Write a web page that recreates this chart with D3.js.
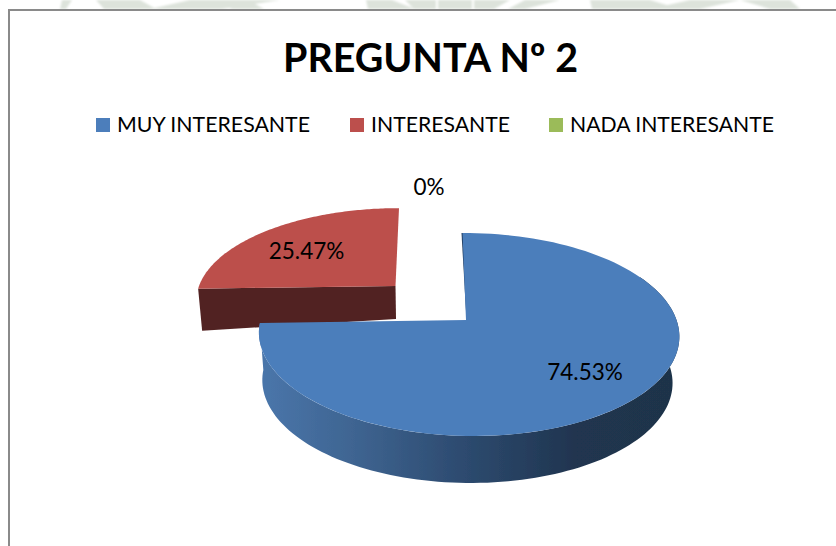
<!DOCTYPE html>
<html>
<head>
<meta charset="utf-8">
<script src="https://cdn.jsdelivr.net/npm/d3@7"></script>
<style>
  html, body { margin: 0; padding: 0; background: #fff; }
  svg { display: block; }
  text { font-family: Lato, "Open Sans", sans-serif; fill: #000; }
</style>
</head>
<body>
<div id="chart"></div>
<script>
var categories = ["MUY INTERESANTE", "INTERESANTE", "NADA INTERESANTE"];
var values = [74.53, 25.47, 0];
var valueLabels = ["74.53%", "25.47%", "0%"];
var colors = ["#4c7ebb", "#bc4f4c", "#9bbb59"];

var width = 836, height = 546;

var svg = d3.select("#chart").append("svg")
  .attr("width", width)
  .attr("height", height);

var defs = svg.append("defs");
defs.append("filter").attr("id", "soft")
  .append("feGaussianBlur").attr("stdDeviation", 0.6);
defs.append("filter").attr("id", "softer")
  .append("feGaussianBlur").attr("stdDeviation", 1);

// blue side wall shading, left to right
var wall = defs.append("linearGradient").attr("id", "blueWall")
  .attr("gradientUnits", "userSpaceOnUse")
  .attr("x1", 259).attr("x2", 678).attr("y1", 0).attr("y2", 0);
wall.append("stop").attr("offset", "0%").attr("stop-color", "#4a76ab");
wall.append("stop").attr("offset", "22%").attr("stop-color", "#3f6592");
wall.append("stop").attr("offset", "45%").attr("stop-color", "#2f4e74");
wall.append("stop").attr("offset", "75%").attr("stop-color", "#203550");
wall.append("stop").attr("offset", "100%").attr("stop-color", "#1f3349");

// faint watermark showing above the chart frame
var watermark = [
  [[62, 0], [72, 0], [66, 9], [60, 9]],
  [[96, 0], [140, 0], [156, 9], [104, 9]],
  [[190, 0], [280, 0], [222, 9], [150, 9]],
  [[214, 0], [248, 0], [264, 9], [232, 9]],
  [[366, 0], [392, 0], [415, 9], [368, 9]],
  [[405, 0], [436, 0], [436, 9], [414, 9]],
  [[438, 0], [472, 0], [472, 9], [438, 9]],
  [[474, 0], [510, 0], [494, 9], [474, 9]],
  [[525, 0], [560, 0], [525, 9], [508, 9]],
  [[590, 0], [650, 0], [680, 9], [592, 9]],
  [[690, 0], [740, 0], [700, 9], [650, 9]],
  [[740, 0], [790, 0], [800, 9], [770, 9]]
];
svg.append("g").attr("filter", "url(#softer)")
  .selectAll("polygon").data(watermark).enter().append("polygon")
  .attr("points", function (d) { return d.join(" "); })
  .attr("fill", "#dde3db");

svg.append("rect").attr("x", 0).attr("y", 9).attr("width", width).attr("height", height - 9).attr("fill", "#fff");

// chart frame, open on the right and bottom where the picture is cut
svg.append("path")
  .attr("d", "M9,546V10H836")
  .attr("fill", "none")
  .attr("stroke", "#8a8a8a")
  .attr("stroke-width", 2);

svg.append("text")
  .attr("x", 283).attr("y", 72)
  .attr("textLength", 295)
  .attr("lengthAdjust", "spacingAndGlyphs")
  .style("font-size", "40px")
  .style("font-weight", "bold")
  .text("PREGUNTA Nº 2");

// legend
var legendX = d3.scaleOrdinal().domain(categories).range([96, 350, 549]);
var legendLen = d3.scaleOrdinal().domain(categories).range([193, 139, 204]);
var legend = svg.selectAll(".legend").data(categories).enter().append("g")
  .attr("class", "legend")
  .attr("transform", function (d) { return "translate(" + legendX(d) + ",118)"; });
legend.append("rect")
  .attr("width", 14).attr("height", 14)
  .attr("fill", function (d, i) { return colors[i]; });
legend.append("text")
  .attr("x", 21).attr("y", 14)
  .attr("textLength", function (d) { return legendLen(d); })
  .attr("lengthAdjust", "spacingAndGlyphs")
  .style("font-size", "22px")
  .text(function (d) { return d; });

// pie angles come from d3.pie, then each disc is put through a small perspective mapping
var pie = d3.pie().sort(null).value(function (d) { return d; });
var arcs = pie(values);

function project(angle, p) {
  var u = Math.sin(angle), v = -Math.cos(angle);
  var w = 1 + p.k * v + p.m * u;
  return [p.cx + (p.A * u + p.s * v) / w, p.cy + (p.B * v + p.t * u) / w];
}
function rim(a0, a1, p) {
  var n = 120;
  return d3.range(n + 1).map(function (i) {
    return project(a0 + (a1 - a0) * i / n, p);
  });
}
var line = d3.line().curve(d3.curveLinear);

var blueTop = { cx: 466, cy: 320, A: 208, B: 99.4, k: -0.143, m: -0.012, s: 4, t: 0 };
var blueBase = { cx: 467, cy: 367, A: 203, B: 99.4, k: -0.143, m: 0, s: 3, t: 0 };
var redTop = { cx: 395.5, cy: 286, A: 196.5, B: 89, k: -0.143, m: 0, s: -4, t: 0 };
var redBase = { cx: 396, cy: 319, A: 193, B: 89, k: -0.143, m: 0, s: -4, t: -9 };

var pieG = svg.append("g").attr("filter", "url(#soft)");

// red slice goes behind the blue one
var red = arcs[1];
var redCut = [
  [redTop.cx, redTop.cy],
  project(red.startAngle, redTop),
  project(red.startAngle, redBase),
  [redBase.cx, redBase.cy]
];
pieG.append("path").attr("d", line(redCut) + "Z").attr("fill", "#512120");
pieG.append("path")
  .attr("d", line([[redTop.cx, redTop.cy]].concat(rim(red.startAngle, red.endAngle, redTop))) + "Z")
  .attr("fill", colors[1]);

// blue wall, then top face
var blue = arcs[0];
var wallFrom = Math.PI * 0.35;
pieG.append("path")
  .attr("d", line(rim(wallFrom, blue.endAngle, blueTop).concat(rim(wallFrom, blue.endAngle, blueBase).reverse())) + "Z")
  .attr("fill", "url(#blueWall)");
pieG.append("path")
  .attr("d", line([project(blue.startAngle, blueTop), [blueTop.cx + 1.5, blueTop.cy]]))
  .attr("fill", "none")
  .attr("stroke", "#1f3a5c")
  .attr("stroke-width", 2);
pieG.append("path")
  .attr("d", line([[blueTop.cx, blueTop.cy]].concat(rim(blue.startAngle, blue.endAngle, blueTop))) + "Z")
  .attr("fill", colors[0]);

// value labels
var labelX = d3.scaleOrdinal().domain(valueLabels).range([585, 306.5, 429]);
var labelY = d3.scaleOrdinal().domain(valueLabels).range([380, 259, 195]);
svg.selectAll(".value").data(valueLabels).enter().append("text")
  .attr("class", "value")
  .attr("x", function (d) { return labelX(d); })
  .attr("y", function (d) { return labelY(d); })
  .attr("text-anchor", "middle")
  .style("font-size", "22.5px")
  .text(function (d) { return d; });
</script>
</body>
</html>
